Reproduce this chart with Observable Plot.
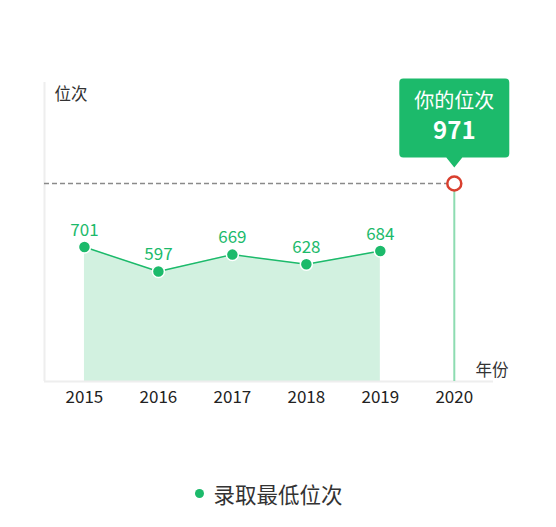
<!DOCTYPE html>
<html><head><meta charset="utf-8">
<script src="https://cdn.jsdelivr.net/npm/d3@7"></script>
<script src="https://cdn.jsdelivr.net/npm/@observablehq/plot@0.6"></script>
<style>
body{margin:0;background:#fff;font-family:"Noto Sans CJK SC",sans-serif;}
#legend{display:flex;align-items:center;justify-content:center;height:30px;margin-top:38px;padding-right:18px;}
#legend .dot{width:9px;height:9px;border-radius:50%;background:#1cba6b;margin-right:9px;}
#legend .txt{font-size:21.5px;color:#333;}
</style></head><body>
<div id="chart"></div>
<div id="legend"><span class="dot"></span><span class="txt"></span></div>
<script>
const years = [2015, 2016, 2017, 2018, 2019];
const ranks = [701, 597, 669, 628, 684];
const myYear = 2020;
const myRank = 971;
const tickYears = [2015, 2016, 2017, 2018, 2019, 2020];
const xDomain = [2014.46, 2020.53];
const yDomain = [130, 1400];
const yLabel = "位次";
const xLabel = "年份";
const tipTitle = "你的位次";
const seriesName = "录取最低位次";

const green = "#1cba6b";
const data = years.map((y, i) => ({year: y, v: ranks[i]}));
const mine = [{year: myYear, v: myRank}];

const tipBox = {
  draw(ctx) {
    const l = -55, r = 55, t = -105, b = -26, rad = 4, pw = 8, tip = -16;
    ctx.moveTo(l + rad, t);
    ctx.lineTo(r - rad, t);
    ctx.arcTo(r, t, r, t + rad, rad);
    ctx.lineTo(r, b - rad);
    ctx.arcTo(r, b, r - rad, b, rad);
    ctx.lineTo(pw, b);
    ctx.lineTo(0, tip);
    ctx.lineTo(-pw, b);
    ctx.lineTo(l + rad, b);
    ctx.arcTo(l, b, l, b - rad, rad);
    ctx.lineTo(l, t + rad);
    ctx.arcTo(l, t, l + rad, t, rad);
    ctx.closePath();
  }
};

const chart = Plot.plot({
  width: 556,
  height: 440,
  marginLeft: 44,
  marginRight: 63,
  marginTop: 82,
  marginBottom: 59,
  style: {fontFamily: '"Noto Sans CJK SC", sans-serif', color: "#222", background: "#fff"},
  x: {domain: xDomain, axis: null},
  y: {domain: yDomain, axis: null},
  marks: [
    Plot.areaY(data, {x: "year", y1: () => yDomain[0], y2: "v", fill: "#d2f1e0"}),
    Plot.ruleX([xDomain[0]], {stroke: "#eeeeee", strokeWidth: 2}),
    Plot.ruleY([yDomain[0]], {stroke: "#eeeeee", strokeWidth: 2}),
    Plot.ruleY(mine, {y: "v", x1: () => xDomain[0], x2: "year", stroke: "#8a8a8a", strokeWidth: 1.5, strokeDasharray: "5,3"}),
    Plot.ruleX(mine, {x: "year", y1: () => yDomain[0], y2: "v", stroke: "#8ddcb1", strokeWidth: 2}),
    Plot.lineY(data, {x: "year", y: "v", stroke: green, strokeWidth: 1.5}),
    Plot.dot(data, {x: "year", y: "v", r: 6, fill: green, stroke: "#fff", strokeWidth: 1.5}),
    Plot.text(data, {x: "year", y: "v", text: d => String(d.v), dy: -17, fill: green, fontSize: 17}),
    Plot.dot(mine, {x: "year", y: "v", r: 7, fill: "#fff", stroke: "#d9402f", strokeWidth: 2.5}),
    Plot.dot(mine, {x: "year", y: "v", symbol: tipBox, fill: green, stroke: "none"}),
    Plot.text(mine, {x: "year", y: "v", text: () => tipTitle, dy: -82, fill: "#fff", fontSize: 20}),
    Plot.text(mine, {x: "year", y: "v", text: d => String(d.v), dy: -52, fill: "#fff", fontSize: 24, fontWeight: "bold"}),
    Plot.axisX(tickYears, {tickSize: 0, tickPadding: 9, fontSize: 17, tickFormat: d => String(d), label: null, fill: "#222"}),
    Plot.text([yLabel], {frameAnchor: "top-left", dx: 10, dy: 6, textAnchor: "start", fontSize: 16.5, fill: "#333"}),
    Plot.text([xLabel], {frameAnchor: "bottom-right", dx: 15, dy: -6, textAnchor: "end", fontSize: 16.5, fill: "#333"})
  ]
});
document.getElementById("chart").appendChild(chart);
document.querySelector("#legend .txt").textContent = seriesName;
</script>
</body></html>
